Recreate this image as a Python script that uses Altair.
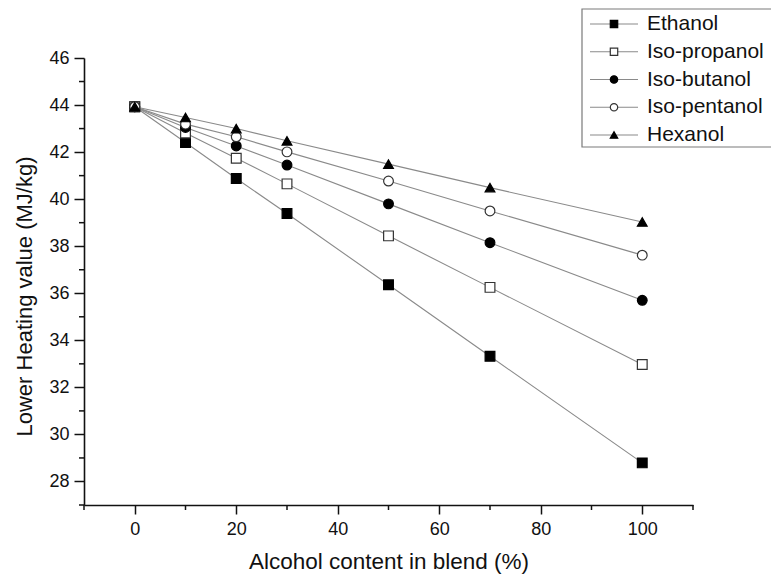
import altair as alt
import pandas as pd

# Lower heating value of gasoline/alcohol blends
blend = [0, 10, 20, 30, 50, 70, 100]
ethanol = [43.93, 42.41, 40.88, 39.39, 36.36, 33.32, 28.79]
isopropanol = [43.93, 42.81, 41.74, 40.65, 38.44, 36.25, 32.97]
isobutanol = [43.93, 43.05, 42.26, 41.45, 39.80, 38.15, 35.70]
isopentanol = [43.93, 43.19, 42.65, 42.01, 40.77, 39.50, 37.62]
hexanol = [43.93, 43.47, 43.00, 42.48, 41.49, 40.49, 39.03]

series_names = ["Ethanol", "Iso-propanol", "Iso-butanol", "Iso-pentanol", "Hexanol"]
series_values = [ethanol, isopropanol, isobutanol, isopentanol, hexanol]

x_major = [0, 20, 40, 60, 80, 100]
x_minor = [-10, 10, 30, 50, 70, 90, 110]
y_major = [28, 30, 32, 34, 36, 38, 40, 42, 44, 46]
y_minor = [27, 29, 31, 33, 35, 37, 39, 41, 43, 45]

rows = []
for k, (name, vals) in enumerate(zip(series_names, series_values)):
    for xv, yv in zip(blend, vals):
        rows.append({"series": name, "order": k, "blend": xv, "lhv": yv})
df = pd.DataFrame(rows)
legend_df = pd.DataFrame({"series": series_names})

FONT = "Liberation Sans"
INK = "#111111"
LINE = "#8a8a8a"

shape_scale = alt.Scale(domain=series_names,
                        range=["square", "square", "circle", "circle", "triangle-up"])
fill_scale = alt.Scale(domain=series_names,
                       range=["#000000", "#ffffff", "#000000", "#ffffff", "#000000"])
stroke_scale = alt.Scale(domain=series_names,
                         range=["#000000", "#333333", "#000000", "#333333", "#000000"])

x_scale = alt.Scale(domain=[-10, 110], nice=False, zero=False)
y_scale = alt.Scale(domain=[27, 46], nice=False, zero=False)

x_axis = alt.Axis(values=x_major, tickSize=9, tickWidth=1.5, tickColor=INK,
                  domainColor=INK, domainWidth=1.6, grid=False,
                  labelFont=FONT, labelFontSize=18, labelColor=INK,
                  labelPadding=6, title="Alcohol content in blend (%)",
                  titleFont=FONT, titleFontSize=22.5, titleFontWeight="normal",
                  titleColor=INK, titlePadding=12)
y_axis = alt.Axis(values=y_major, tickSize=10, tickWidth=1.5, tickColor=INK,
                  domainColor=INK, domainWidth=1.6, grid=False,
                  labelFont=FONT, labelFontSize=18, labelColor=INK,
                  labelPadding=5, title="Lower Heating value (MJ/kg)",
                  titleFont=FONT, titleFontSize=22, titleFontWeight="normal",
                  titleColor=INK, titlePadding=12, titleY=238)

X = alt.X("blend:Q", scale=x_scale, axis=x_axis)
Y = alt.Y("lhv:Q", scale=y_scale, axis=y_axis)

base = alt.Chart(df)

lines = base.mark_line(color=LINE, strokeWidth=1.1).encode(
    x=X, y=Y, detail="series:N", order="blend:Q",
)

# Short minor ticks between the labelled ones
x_minor_ticks = alt.Chart(pd.DataFrame({"blend": x_minor})).mark_rule(
    color=INK, strokeWidth=1.5
).encode(
    x=X, y=alt.value(447), y2=alt.value(452),
)
y_minor_ticks = alt.Chart(pd.DataFrame({"lhv": y_minor})).mark_rule(
    color=INK, strokeWidth=1.5
).encode(
    y=Y, x=alt.value(0), x2=alt.value(-5),
)

points = base.mark_point(filled=False, strokeWidth=1.2, opacity=1).encode(
    x=X, y=Y,
    shape=alt.Shape("series:N", scale=shape_scale, legend=None),
    fill=alt.Fill("series:N", scale=fill_scale, legend=None),
    stroke=alt.Stroke("series:N", scale=stroke_scale, legend=None),
    size=alt.Size("series:N", scale=alt.Scale(domain=series_names,
                                               range=[95, 95, 120, 120, 180]),
                  legend=None),
)

main = alt.layer(lines, x_minor_ticks, y_minor_ticks, points)

# Legend drawn as its own layer, rows placed by a point scale
row_scale = alt.Scale(type="point", domain=series_names, range=[-34, 77], padding=0)

legend_box = alt.Chart(pd.DataFrame({"k": [0]})).mark_rect(
    fill="white", stroke="#7a7a7a", strokeWidth=1.2
).encode(
    x=alt.value(498), x2=alt.value(720),
    y=alt.value(-49), y2=alt.value(89),
)

leg = alt.Chart(legend_df)
legend_lines = leg.mark_rule(color=LINE, strokeWidth=1.1).encode(
    x=alt.value(506), x2=alt.value(554),
    y=alt.Y("series:N", scale=row_scale, axis=None),
)
legend_points = leg.mark_point(filled=False, strokeWidth=1.2, opacity=1).encode(
    x=alt.value(530),
    y=alt.Y("series:N", scale=row_scale, axis=None),
    shape=alt.Shape("series:N", scale=shape_scale, legend=None),
    fill=alt.Fill("series:N", scale=fill_scale, legend=None),
    stroke=alt.Stroke("series:N", scale=stroke_scale, legend=None),
    size=alt.Size("series:N", scale=alt.Scale(domain=series_names,
                                               range=[55, 55, 64, 64, 130]),
                  legend=None),
)
legend_text = leg.mark_text(align="left", baseline="middle", font=FONT,
                            fontSize=21, color=INK).encode(
    x=alt.value(563),
    y=alt.Y("series:N", scale=row_scale, axis=None),
    text="series:N",
)

legend = alt.layer(legend_box, legend_lines, legend_points, legend_text)

chart = alt.layer(main, legend).resolve_scale(
    y="independent", size="independent"
).properties(
    width=609, height=447,
    padding={"left": 84, "top": 58, "right": 78, "bottom": 76},
    autosize=alt.AutoSizeParams(type="none"),
    background="white",
).configure_view(stroke=None)

chart.save("out.html", embed_options={"renderer": "svg", "actions": False})
